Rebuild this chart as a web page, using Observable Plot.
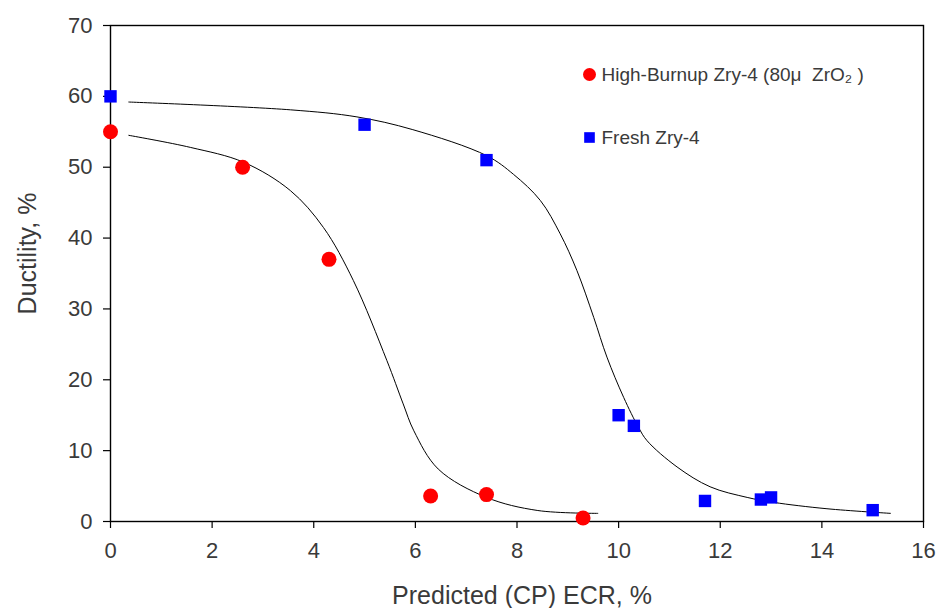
<!DOCTYPE html>
<html><head><meta charset="utf-8">
<script src="https://cdn.jsdelivr.net/npm/d3@7"></script>
<script src="https://cdn.jsdelivr.net/npm/@observablehq/plot@0.6"></script>
<style>
body{margin:0;background:#fff;}
svg text{white-space:pre;fill:#3a3a3a;}
</style></head><body><div id="chart"></div>
<script>
// Axis ticks
const xTicks = [0, 2, 4, 6, 8, 10, 12, 14, 16];
const yTicks = [0, 10, 20, 30, 40, 50, 60, 70];
// Measured points: High-Burnup Zry-4
const hbX = [0, 2.6, 4.3, 6.3, 7.4, 9.3];
const hbY = [55, 50, 37, 3.6, 3.8, 0.5];
// Measured points: Fresh Zry-4
const frX = [0, 5.0, 7.4, 10.0, 10.3, 11.7, 12.8, 13.0, 15.0];
const frY = [60, 56, 51, 15, 13.5, 2.9, 3.1, 3.4, 1.6];
// Fitted curve: High-Burnup
const hbFitX = [0.36, 1.57, 2.62, 3.54, 4.19, 4.78, 5.44, 5.76, 5.97, 6.45, 7.40, 8.41, 9.59];
const hbFitY = [54.5, 52.8, 50.7, 46.7, 41.5, 34.0, 22.7, 16.6, 12.8, 7.4, 3.4, 1.55, 1.15];
// Fitted curve: Fresh
const frFitX = [0.36, 3.54, 4.85, 5.95, 7.41, 7.93, 8.46, 8.85, 9.18, 9.51, 9.77, 10.1, 10.39, 10.56, 11.15, 11.8, 12.53, 13.05, 14.1, 15.35];
const frFitY = [59.2, 58.1, 57.1, 55.3, 51.6, 49.0, 45.3, 40.6, 35.4, 28.8, 23.2, 17.5, 13.3, 11.4, 7.7, 4.9, 3.4, 2.7, 1.8, 1.15];
// Labels
const legendLabels = ["High-Burnup Zry-4 (80\u03bc  ZrO\u2082 )", "Fresh Zry-4"];
const xLabel = "Predicted (CP) ECR, %";
const yLabel = "Ductility, %";

const zip = (xs, ys) => xs.map((x, i) => ({x, y: ys[i]}));
const hb = zip(hbX, hbY), fr = zip(frX, frY);
const hbFit = zip(hbFitX, hbFitY), frFit = zip(frFitX, frFitY);

const chart = Plot.plot({
  width: 941, height: 608,
  marginLeft: 110, marginRight: 18, marginTop: 25, marginBottom: 87,
  style: {fontFamily: "'Liberation Sans', Arial, sans-serif", color: "#000", background: "#fff", overflow: "visible"},
  x: {domain: [0, 16]},
  y: {domain: [0, 70]},
  marks: [
    Plot.frame({stroke: "#000", strokeWidth: 1.4}),
    Plot.axisX({ticks: xTicks, tickSize: 7, tickPadding: 14, fontSize: 22, label: null, strokeWidth: 1.2}),
    Plot.axisY({ticks: yTicks, tickSize: 7, tickPadding: 11, fontSize: 22, label: null, strokeWidth: 1.2}),
    Plot.line(hbFit, {x: "x", y: "y", curve: "catmull-rom", stroke: "#000", strokeWidth: 1}),
    Plot.line(frFit, {x: "x", y: "y", curve: "catmull-rom", stroke: "#000", strokeWidth: 1}),
    Plot.dot(hb, {x: "x", y: "y", r: 7.5, fill: "#ff0000", symbol: "circle"}),
    Plot.dot(fr, {x: "x", y: "y", r: 7, fill: "#0000ff", symbol: "square"}),
    // legend
    Plot.dot([legendLabels[0]], {frameAnchor: "top-left", dx: 479, dy: 49, r: 6.5, fill: "#ff0000", symbol: "circle"}),
    Plot.dot([legendLabels[1]], {frameAnchor: "top-left", dx: 479, dy: 112, r: 6, fill: "#0000ff", symbol: "square"}),
    Plot.text([legendLabels[0]], {text: d => d, frameAnchor: "top-left", dx: 491, dy: 49, textAnchor: "start", lineAnchor: "middle", fontSize: 19}),
    Plot.text([legendLabels[1]], {text: d => d, frameAnchor: "top-left", dx: 491, dy: 112, textAnchor: "start", lineAnchor: "middle", fontSize: 19}),
    // axis titles
    Plot.text([xLabel], {text: d => d, frameAnchor: "bottom", textAnchor: "middle", dx: 5, dy: 74, lineAnchor: "middle", fontSize: 25}),
    Plot.text([yLabel], {text: d => d, frameAnchor: "left", textAnchor: "middle", rotate: -90, dx: -83, dy: -20, lineAnchor: "middle", fontSize: 25})
  ]
});
document.getElementById("chart").appendChild(chart);
</script>
</body></html>
